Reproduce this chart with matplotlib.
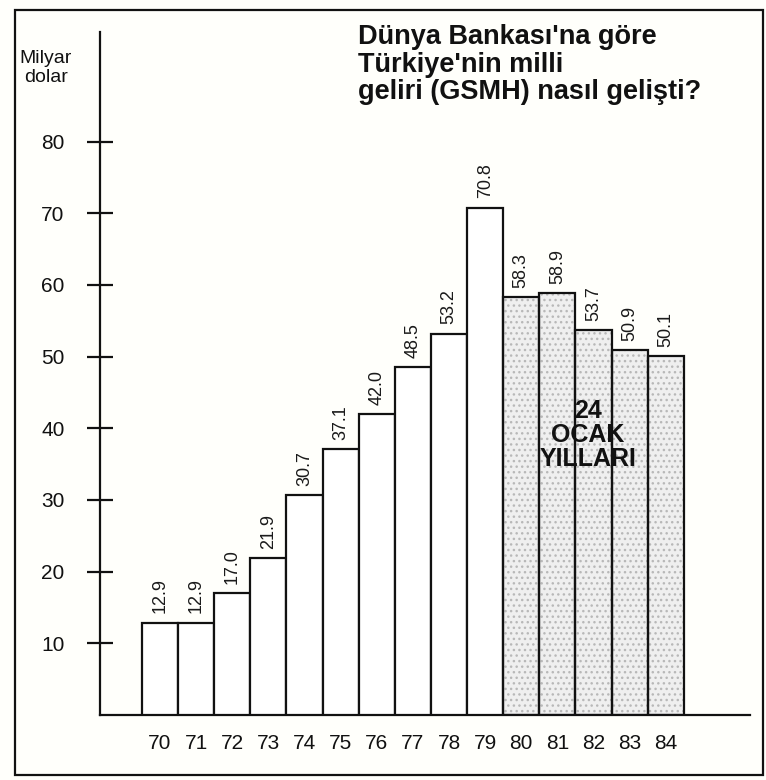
import matplotlib
matplotlib.use('Agg')
import matplotlib.pyplot as plt
from matplotlib.patches import Rectangle

# data (milyar dolar)
years = ['70', '71', '72', '73', '74', '75', '76', '77', '78', '79',
         '80', '81', '82', '83', '84']
gsmh = [12.9, 12.9, 17.0, 21.9, 30.7, 37.1, 42.0, 48.5, 53.2, 70.8,
        58.3, 58.9, 53.7, 50.9, 50.1]
value_labels = ['12.9', '12.9', '17.0', '21.9', '30.7', '37.1', '42.0', '48.5',
                '53.2', '70.8', '58.3', '58.9', '53.7', '50.9', '50.1']
ocak_years = ['80', '81', '82', '83', '84']   # shaded "24 Ocak" period
y_ticks = [10, 20, 30, 40, 50, 60, 70, 80]

plt.rcParams['font.family'] = ['Liberation Sans', 'DejaVu Sans']

fig = plt.figure(figsize=(7.66, 7.80), dpi=100)
fig.patch.set_facecolor('#fffffb')

ax = fig.add_axes([100/766, 1 - 715/780, 650/766, 683/780])
ax.set_facecolor('none')

x = list(range(len(years)))
for i, (yr, v) in enumerate(zip(years, gsmh)):
    if yr in ocak_years:
        # stippled grey fill, then black outline on top
        ax.bar(i, v, width=1.0, color='#efefef', edgecolor='#b8b8b8',
               hatch='...', linewidth=0, zorder=2)
        ax.bar(i, v, width=1.0, color='none', edgecolor='#111111',
               linewidth=1.6, zorder=3)
    else:
        ax.bar(i, v, width=1.0, color='white', edgecolor='#111111',
               linewidth=1.6, zorder=3)
    ax.text(i, v + 1.3, value_labels[i], rotation=90, ha='center', va='bottom',
            fontsize=13, color='#1a1a1a')

ax.set_xlim(-1.66, 16.33)
ax.set_ylim(0, 95.3)

ax.spines['top'].set_visible(False)
ax.spines['right'].set_visible(False)
for s in ['left', 'bottom']:
    ax.spines[s].set_linewidth(1.6)
    ax.spines[s].set_color('#111111')

ax.set_yticks(y_ticks)
ax.set_yticklabels([str(t) for t in y_ticks])
ax.tick_params(axis='y', direction='inout', length=19, width=1.6,
               pad=16, labelsize=15, colors='#111111')
ax.set_xticks(x)
ax.set_xticklabels(years)
ax.tick_params(axis='x', length=0, pad=14, labelsize=15, colors='#111111')

ax.text(11.85, 39, '24\nOCAK\nYILLARI', ha='center', va='center',
        fontsize=18, fontweight='bold', linespacing=1.0,
        color='#111111', zorder=4)

fig.text(46/766, 1 - 68/780, 'Milyar\ndolar', ha='center', va='center',
         fontsize=14, linespacing=1.2, color='#111111')

fig.text(358/766, 1 - 24/780,
         "Dünya Bankası'na göre\nTürkiye'nin milli\ngeliri (GSMH) nasıl gelişti?",
         ha='left', va='top', fontsize=19.5, fontweight='bold',
         linespacing=1.08, color='#111111')

# outer frame of the newspaper box
fig.add_artist(Rectangle((15/766, 1 - 775/780), 748/766, 765/780,
                         transform=fig.transFigure, fill=False,
                         edgecolor='#111111', linewidth=1.6))

fig.savefig('out.png', dpi=100, facecolor=fig.get_facecolor())
